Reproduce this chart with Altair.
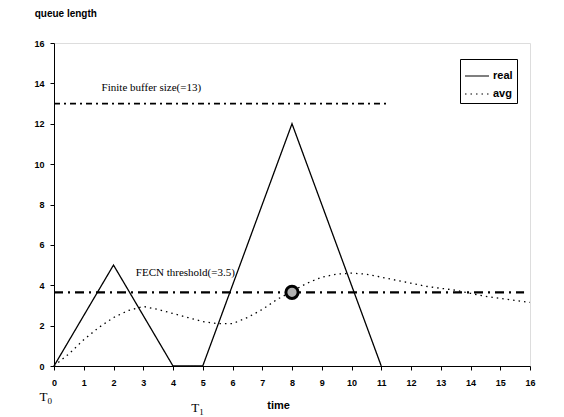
import altair as alt
import pandas as pd

# ---- data ----
real_x = [0, 2, 4, 5, 8, 11]
real_y = [0, 5, 0, 0, 12, 0]

avg_x = [0, 0.5, 1, 1.5, 2, 2.5, 3, 3.5, 4, 4.5, 5, 5.5, 6, 6.5, 7, 7.5, 8,
         8.5, 9, 9.5, 10, 10.5, 11, 11.5, 12, 12.5, 13, 13.5, 14, 14.5, 15, 15.5, 16]
avg_y = [0, 0.6, 1.3, 1.9, 2.4, 2.75, 2.95, 2.8, 2.6, 2.4, 2.2, 2.1, 2.1, 2.4, 2.8, 3.3, 3.7,
         4.1, 4.4, 4.55, 4.6, 4.55, 4.4, 4.25, 4.1, 3.95, 3.85, 3.75, 3.6, 3.45, 3.35, 3.25, 3.15]

buffer_size = 13
buffer_end = 11.2
threshold = 3.65
threshold_end = 15.8
marker_x = 8

x_ticks = list(range(0, 17))
y_ticks = list(range(0, 17, 2))

series_names = ["real", "avg"]

lines_df = pd.DataFrame(
    {"x": real_x + avg_x,
     "y": real_y + avg_y,
     "series": ["real"] * len(real_x) + ["avg"] * len(avg_x)}
)

W, H = 476, 323

xs = alt.Scale(domain=[0, 16], nice=False, zero=False)
ys = alt.Scale(domain=[0, 16], nice=False, zero=False)

axis_font = "Liberation Sans"

x_axis = alt.Axis(values=x_ticks, title=None, labelFont=axis_font, labelFontWeight="bold",
                  labelFontSize=9, labelColor="black", domainColor="black",
                  tickColor="black", tickSize=4, grid=False, labelPadding=8,
                  labelOverlap=False, labelFlush=False)
y_axis = alt.Axis(values=y_ticks, title=None, labelFont=axis_font, labelFontWeight="bold",
                  labelFontSize=9, labelColor="black", domainColor="black",
                  tickColor="black", tickSize=4, grid=False, labelPadding=6,
                  labelOverlap=False, labelFlush=False)


def X(field):
    return alt.X(field, type="quantitative", scale=xs, axis=x_axis)


def Y(field):
    return alt.Y(field, type="quantitative", scale=ys, axis=y_axis)


buffer_df = pd.DataFrame({"x": [0], "x2": [buffer_end], "y": [buffer_size]})
buffer_rule = alt.Chart(buffer_df).mark_rule(
    color="black", strokeWidth=1.8, strokeDash=[6, 4, 2, 4]
).encode(x=X("x"), x2="x2:Q", y=Y("y"))

thr_df = pd.DataFrame({"x": [0], "x2": [threshold_end], "y": [threshold]})
thr_rule = alt.Chart(thr_df).mark_rule(
    color="black", strokeWidth=2.2, strokeDash=[9, 5, 2, 5]
).encode(x=X("x"), x2="x2:Q", y=Y("y"))

lines = alt.Chart(lines_df).mark_line(color="black", strokeWidth=1.3).encode(
    x=X("x"),
    y=Y("y"),
    strokeDash=alt.StrokeDash(
        "series:N",
        scale=alt.Scale(domain=series_names, range=[[1, 0], [1.5, 4]]),
        sort=series_names,
        legend=alt.Legend(title=None, orient="none", legendX=406, legendY=16,
                          symbolType="stroke", symbolSize=576, symbolStrokeColor="black",
                          symbolStrokeWidth=1.2, labelFont=axis_font, labelFontWeight="bold",
                          labelFontSize=11, labelColor="black", strokeColor="black",
                          padding=4, rowPadding=0, labelOffset=3),
    ),
)

marker_df = pd.DataFrame({"x": [marker_x], "y": [threshold]})
marker = alt.Chart(marker_df).mark_point(
    shape="circle", filled=True, fill="#b0b0b0", stroke="black", strokeWidth=3, size=150, opacity=1
).encode(x=X("x"), y=Y("y"))

serif_texts = pd.DataFrame({
    "x": [1.6, 2.75],
    "y": [13.75, 4.6],
    "t": ["Finite buffer size(=13)", "FECN threshold(=3.5)"],
})
serif_labels = alt.Chart(serif_texts).mark_text(
    align="left", baseline="middle", font="Liberation Serif", fontSize=11, color="black"
).encode(x=X("x"), y=Y("y"), text="t:N")

# T0 / T1 markers: main letter plus a subscript digit
t_df = pd.DataFrame({"x": [-0.35, 4.75], "y": [-1.55, -2.1], "t": ["T", "T"]})
sub_df = pd.DataFrame({"x": [-0.35, 4.75], "y": [-1.55, -2.1], "t": ["0", "1"]})
t_main = alt.Chart(t_df).mark_text(
    align="center", baseline="middle", font="Liberation Serif", fontSize=13, color="black"
).encode(x=X("x"), y=Y("y"), text="t:N")
t_sub = alt.Chart(sub_df).mark_text(
    align="left", baseline="middle", font="Liberation Serif", fontSize=9, color="black", dx=4, dy=4
).encode(x=X("x"), y=Y("y"), text="t:N")

title_df = pd.DataFrame({"x": [-0.65], "y": [17.45], "t": ["queue length"]})
time_df = pd.DataFrame({"x": [7.55], "y": [-2.0], "t": ["time"]})

title_lbl = alt.Chart(title_df).mark_text(
    align="left", baseline="middle", font=axis_font, fontWeight="bold", fontSize=10, color="black"
).encode(x=X("x"), y=Y("y"), text="t:N")
time_lbl = alt.Chart(time_df).mark_text(
    align="center", baseline="middle", font=axis_font, fontWeight="bold", fontSize=11, color="black"
).encode(x=X("x"), y=Y("y"), text="t:N")

chart = alt.layer(
    buffer_rule, thr_rule, lines, marker, serif_labels, t_main, t_sub, title_lbl, time_lbl
).properties(
    width=W, height=H,
    autosize=alt.AutoSizeParams(type="none"),
    padding={"left": 46, "top": 35, "right": 26, "bottom": 50},
).configure_view(stroke="transparent").configure(background="white")

chart.save("out.html", embed_options={"renderer": "svg", "actions": False})
